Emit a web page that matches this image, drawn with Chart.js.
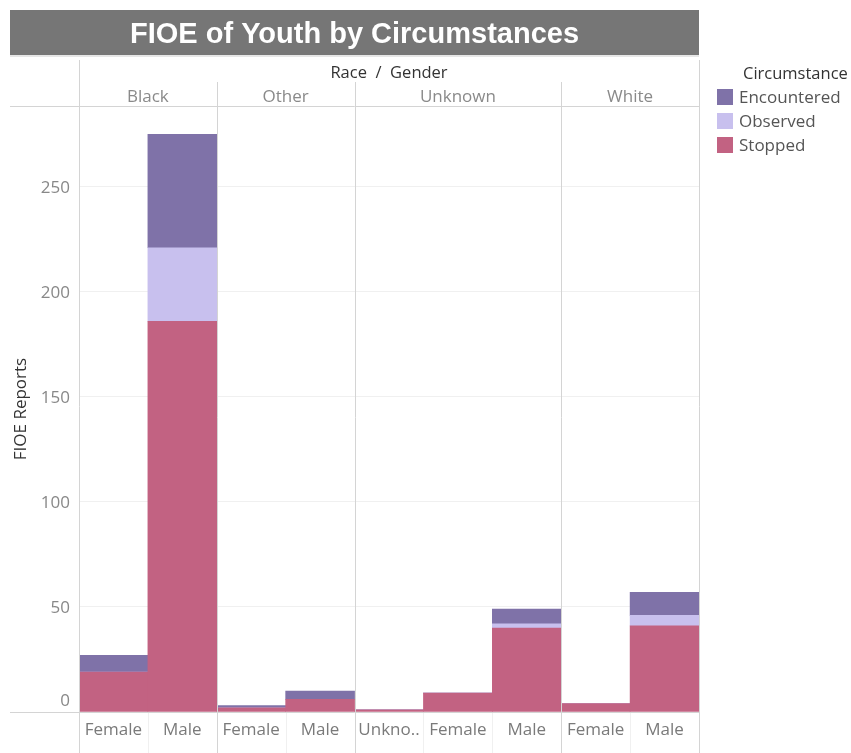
<!DOCTYPE html>
<html>
<head>
<meta charset="utf-8">
<script src="https://cdn.jsdelivr.net/npm/chart.js@4"></script>
<style>
html,body{margin:0;padding:0;background:#fff;}
#wrap{position:relative;width:851px;height:753px;}
</style>
</head>
<body>
<div id="wrap"><canvas id="c" width="851" height="753"></canvas></div>
<script>
const titleText = "FIOE of Youth by Circumstances";
const headerText = "Race  /  Gender";
const races = ["Black", "Other", "Unknown", "White"];
const raceSpans = [2, 2, 3, 2];
const genders = ["Female", "Male", "Female", "Male", "Unkno..", "Female", "Male", "Female", "Male"];
const circumstances = ["Stopped", "Observed", "Encountered"];
const stopped     = [19, 186, 2, 6, 1, 9, 40, 4, 41];
const observed    = [0, 35, 0, 0, 0, 0, 2, 0, 5];
const encountered = [8, 54, 1, 4, 0, 0, 7, 0, 11];
const yTicks = [0, 50, 100, 150, 200, 250];
const colors = {Stopped: "#c26282", Observed: "#c8c0ee", Encountered: "#7f72a8"};

const seriesValues = {Stopped: stopped, Observed: observed, Encountered: encountered};

const FONT = "'Open Sans', 'Noto Sans', sans-serif";

const decor = {
  id: "decor",
  beforeDraw(chart) {
    const ctx = chart.ctx;
    ctx.save();
    ctx.fillStyle = "#fff";
    ctx.fillRect(0, 0, chart.width, chart.height);
    ctx.restore();
  },
  afterDraw(chart) {
    const ctx = chart.ctx;
    const a = chart.chartArea;
    const x = chart.scales.x, y = chart.scales.y;
    ctx.save();
    // title bar
    ctx.fillStyle = "#767676";
    ctx.fillRect(10, 10, a.right - 10, 45);
    ctx.fillStyle = "#ffffff";
    ctx.font = "bold 29px 'Liberation Sans', Arial, sans-serif";
    ctx.textAlign = "center";
    ctx.textBaseline = "middle";
    ctx.fillText(titleText, (10 + a.right) / 2, 35);
    ctx.fillStyle = "#e6e6e6";
    ctx.fillRect(10, 55, a.right - 10, 2);

    // header
    ctx.fillStyle = "#333";
    ctx.font = "16.5px " + FONT;
    ctx.fillText(headerText, (a.left + a.right) / 2, 73);

    // race labels and separators
    const bandW = x.getPixelForValue(1) - x.getPixelForValue(0);
    let idx = 0;
    ctx.font = "17px " + FONT;
    const seps = [];
    races.forEach((r, i) => {
      const l = x.getPixelForValue(idx) - bandW / 2;
      const rr = x.getPixelForValue(idx + raceSpans[i] - 1) + bandW / 2;
      ctx.fillStyle = "#8a8a8a";
      ctx.fillText(r, (l + rr) / 2, 97);
      if (i > 0) seps.push(l);
      idx += raceSpans[i];
    });

    // faint sub-separators in label area
    ctx.strokeStyle = "#f0f0f0";
    ctx.lineWidth = 1;
    for (let i = 1; i < genders.length; i++) {
      const px = Math.round(x.getPixelForValue(i) - bandW / 2) + 0.5;
      ctx.beginPath();
      ctx.moveTo(px, a.bottom);
      ctx.lineTo(px, 753);
      ctx.stroke();
    }

    ctx.strokeStyle = "#d4d4d4";
    ctx.lineWidth = 1;
    // horizontal line under headers
    ctx.beginPath();
    ctx.moveTo(10, a.top + 0.5);
    ctx.lineTo(a.right, a.top + 0.5);
    ctx.stroke();
    // axis baseline
    ctx.beginPath();
    ctx.moveTo(10, Math.round(a.bottom) + 0.5);
    ctx.lineTo(a.right, Math.round(a.bottom) + 0.5);
    ctx.stroke();
    // left axis line
    ctx.beginPath();
    ctx.moveTo(Math.round(a.left) + 0.5, 60);
    ctx.lineTo(Math.round(a.left) + 0.5, 753);
    ctx.stroke();
    // right border
    ctx.beginPath();
    ctx.moveTo(Math.round(a.right) + 0.5, 60);
    ctx.lineTo(Math.round(a.right) + 0.5, 753);
    ctx.stroke();
    // facet separators
    seps.forEach(s => {
      ctx.beginPath();
      ctx.moveTo(Math.round(s) + 0.5, 82);
      ctx.lineTo(Math.round(s) + 0.5, 753);
      ctx.stroke();
    });

    // y tick labels via scale
    ctx.fillStyle = "#888";
    ctx.font = "17px " + FONT;
    ctx.textAlign = "right";
    ctx.textBaseline = "middle";
    y.ticks.forEach(t => {
      let py = y.getPixelForValue(t.value) + 1;
      if (t.value === 0) py -= 12;
      ctx.fillText(String(t.value), a.left - 9, py);
    });

    // legend
    ctx.textAlign = "left";
    ctx.textBaseline = "middle";
    ctx.fillStyle = "#333";
    ctx.font = "16.5px " + FONT;
    ctx.fillText("Circumstance", 743, 74);
    const legendOrder = ["Encountered", "Observed", "Stopped"];
    ctx.font = "17px " + FONT;
    legendOrder.forEach((name, i) => {
      const cy = 97 + i * 24;
      ctx.fillStyle = colors[name];
      ctx.fillRect(717, cy - 8, 16, 16);
      ctx.fillStyle = "#555";
      ctx.fillText(name, 739, cy + 1);
    });
    ctx.restore();
  }
};

new Chart(document.getElementById("c"), {
  type: "bar",
  data: {
    labels: genders,
    datasets: circumstances.map(name => ({
      label: name,
      data: seriesValues[name],
      backgroundColor: colors[name],
      borderWidth: 0,
      categoryPercentage: 1.0,
      barPercentage: 1.0
    }))
  },
  options: {
    responsive: false,
    animation: false,
    layout: {padding: {top: 106, right: 152, left: 0, bottom: 0}},
    plugins: {legend: {display: false}, tooltip: {enabled: false}, title: {display: false}},
    scales: {
      x: {
        stacked: true,
        grid: {display: false},
        border: {display: false},
        ticks: {color: "#7a7a7a", font: {family: FONT, size: 17}, padding: 0, maxRotation: 0, autoSkip: false},
        afterFit(s) { s.height = 41; }
      },
      y: {
        stacked: true,
        min: 0,
        max: 288.5,
        afterBuildTicks(s) { s.ticks = yTicks.map(v => ({value: v})); },
        grid: {color: "#f0f0f0", drawTicks: false},
        border: {display: false},
        ticks: {display: false},
        title: {display: true, text: "FIOE Reports", color: "#333", font: {family: FONT, size: 17}, padding: {top: 11, bottom: 0}},
        afterFit(s) { s.width = 79; }
      }
    }
  },
  plugins: [decor]
});
</script>
</body>
</html>
